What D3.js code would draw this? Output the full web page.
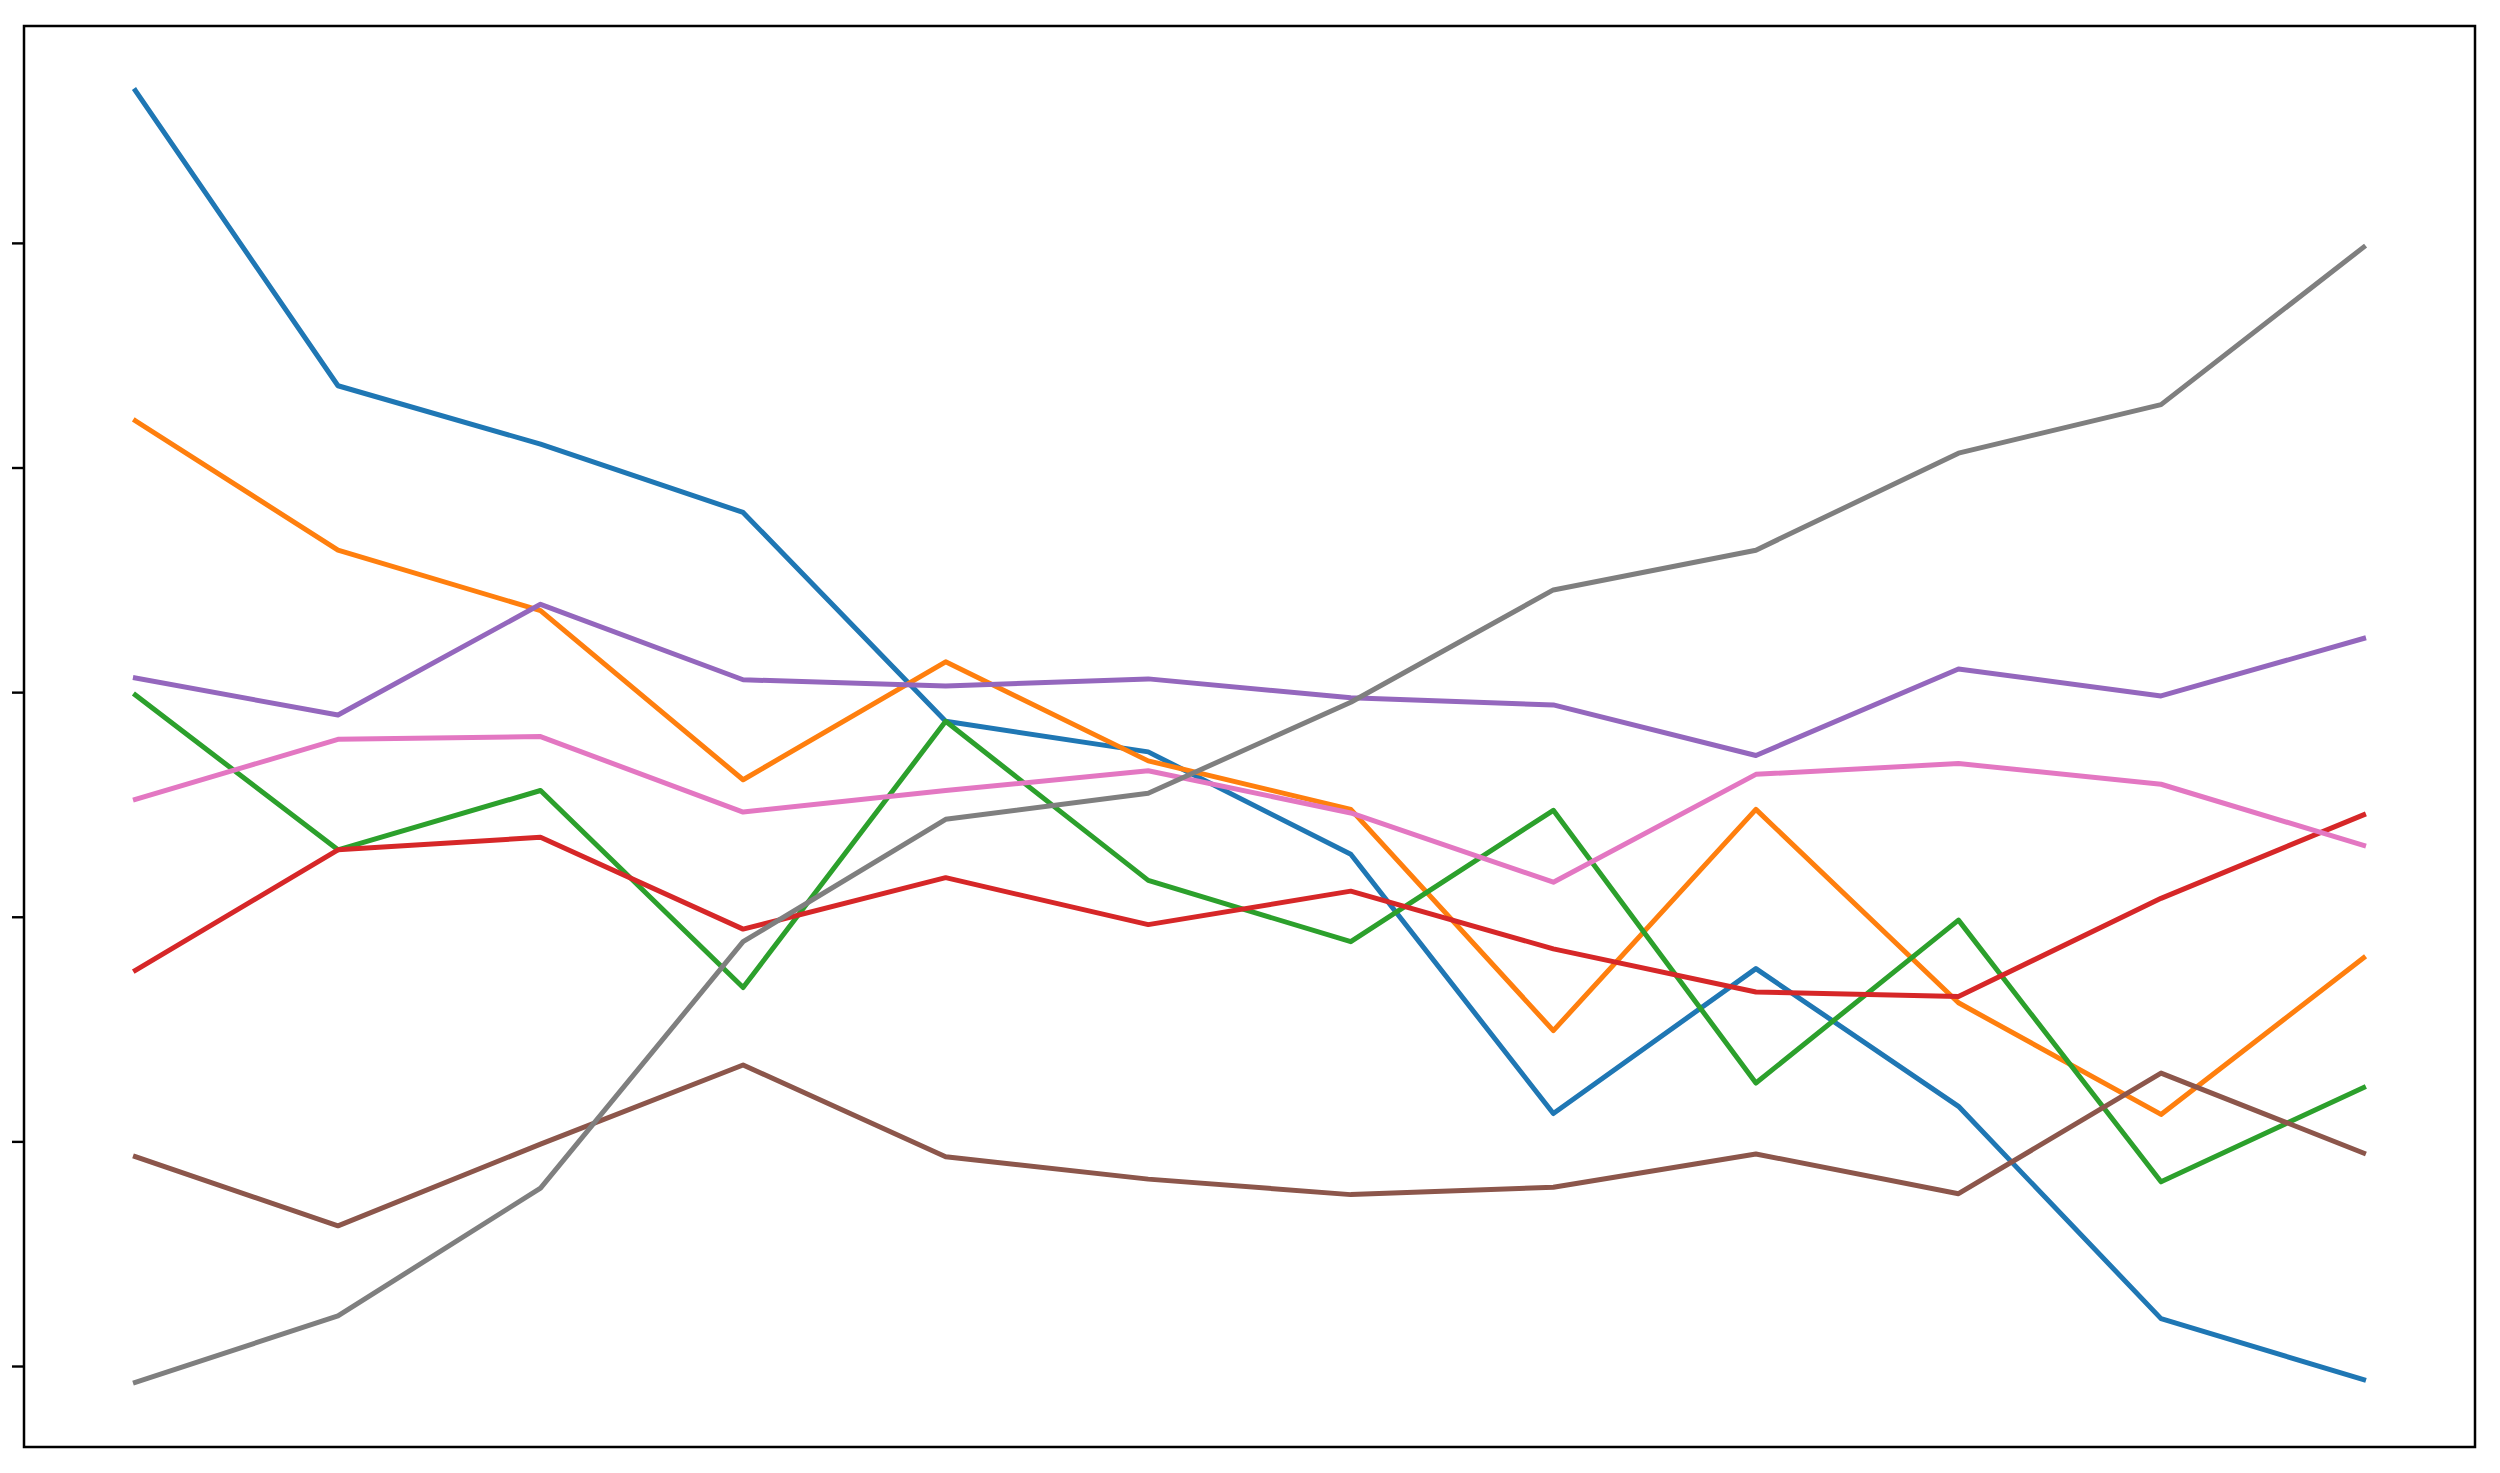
<!DOCTYPE html>
<html>
<head>
<meta charset="utf-8">
<script src="https://cdn.jsdelivr.net/npm/d3@7"></script>
<style>
  html, body { margin: 0; padding: 0; background: #fff; }
  svg { display: block; }
</style>
</head>
<body>
<div id="chart-area"></div>
<script>
// x positions are simple indices 0..11
const steps = d3.range(12);

// values (tick units, bottom tick = 0)
const blueValues   = [5.678, 4.364, 4.104, 3.800, 2.870, 2.734, 2.278, 1.124, 1.769, 1.156, 0.211, -0.061];
const orangeValues = [4.208, 3.632, 3.363, 2.610, 3.135, 2.694, 2.478, 1.493, 2.478, 1.617, 1.120, 1.817];
const greenValues  = [2.987, 2.298, 2.562, 1.685, 2.870, 2.162, 1.889, 2.474, 1.260, 1.985, 0.820, 1.240];
const redValues    = [1.761, 2.298, 2.354, 1.945, 2.174, 1.965, 2.114, 1.857, 1.665, 1.645, 2.082, 2.454];
const purpleValues = [3.063, 2.898, 3.391, 3.055, 3.027, 3.059, 2.975, 2.943, 2.718, 3.103, 2.983, 3.239];
const brownValues  = [0.932, 0.624, 0.988, 1.340, 0.932, 0.832, 0.763, 0.796, 0.944, 0.767, 1.304, 0.948];
const pinkValues   = [2.522, 2.790, 2.802, 2.466, 2.562, 2.650, 2.462, 2.154, 2.634, 2.682, 2.590, 2.318];
const grayValues   = [-0.073, 0.223, 0.792, 1.889, 2.434, 2.550, 2.955, 3.455, 3.632, 4.064, 4.280, 4.981];

const yTicks = [0, 1, 2, 3, 4, 5];

const series = [
    { name: 'blue',   color: '#1f77b4', values: blueValues },
    { name: 'orange', color: '#ff7f0e', values: orangeValues },
    { name: 'green',  color: '#2ca02c', values: greenValues },
    { name: 'red',    color: '#d62728', values: redValues },
    { name: 'purple', color: '#9467bd', values: purpleValues },
    { name: 'brown',  color: '#8c564b', values: brownValues },
    { name: 'pink',   color: '#e377c2', values: pinkValues },
    { name: 'gray',   color: '#7f7f7f', values: grayValues }
];

// set up chart
const totalWidth = 2500, totalHeight = 1473;
const margin = { top: 26, right: 25, bottom: 26, left: 24 },
      width = totalWidth - margin.left - margin.right,
      height = totalHeight - margin.top - margin.bottom;

const svg = d3.select('#chart-area')
    .append('svg')
        .attr('width', totalWidth)
        .attr('height', totalHeight);

const g = svg.append('g')
    .attr('transform', 'translate(' + margin.left + ', ' + margin.top + ')');

// matplotlib-style 5% padding on both axes
function padded(extent) {
    const pad = (extent[1] - extent[0]) * 0.05;
    return [extent[0] - pad, extent[1] + pad];
}

const allValues = series.reduce((a, s) => a.concat(s.values), []);

const x = d3.scaleLinear()
    .domain(padded(d3.extent(steps)))
    .range([0, width]);

const y = d3.scaleLinear()
    .domain(padded(d3.extent(allValues)))
    .range([height, 0]);

// y ticks without labels
const axisLeft = d3.axisLeft(y)
    .tickValues(yTicks)
    .tickFormat('')
    .tickSize(12)
    .tickSizeOuter(0);

const yAxis = g.append('g')
    .attr('class', 'axis-left')
    .call(axisLeft);
yAxis.select('.domain').remove();
yAxis.selectAll('line')
    .attr('stroke', '#000')
    .attr('stroke-width', 2.4);

// lines
const lineBuilder = d3.line()
    .x((d, i) => x(steps[i]))
    .y(d => y(d));

g.selectAll('.series')
    .data(series)
    .enter()
    .append('path')
        .attr('class', 'series')
        .attr('fill', 'none')
        .attr('stroke', d => d.color)
        .attr('stroke-width', 5)
        .attr('stroke-linejoin', 'round')
        .attr('stroke-linecap', 'square')
        .attr('d', d => lineBuilder(d.values));

// frame
g.append('rect')
    .attr('x', 0)
    .attr('y', 0)
    .attr('width', width)
    .attr('height', height)
    .attr('fill', 'none')
    .attr('stroke', '#000')
    .attr('stroke-width', 2.5);
</script>
</body>
</html>
